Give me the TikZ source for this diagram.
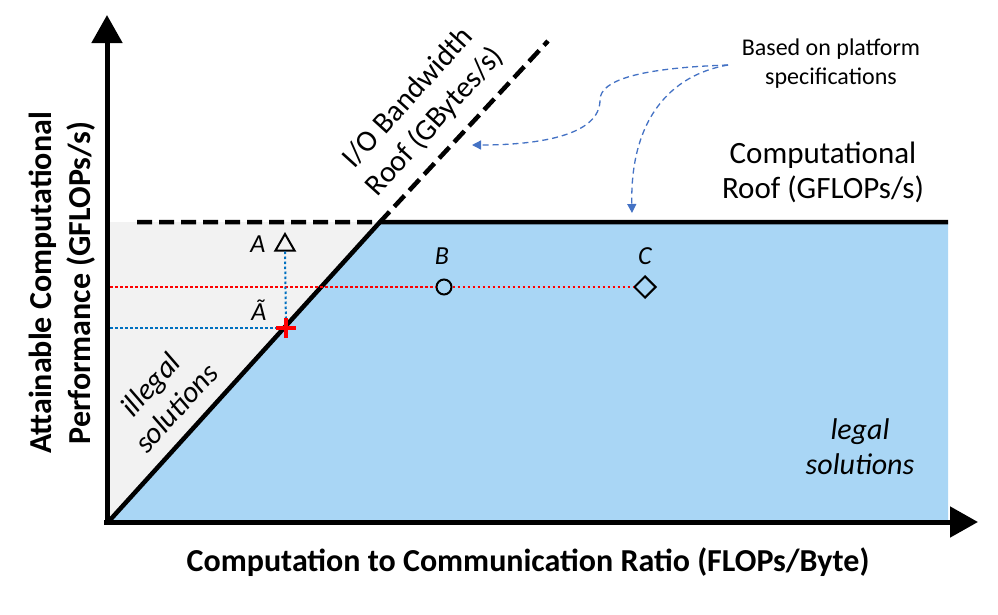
\documentclass[tikz,border=0pt]{standalone}
\usepackage{fontspec}
\setmainfont{Carlito}
\usetikzlibrary{arrows.meta,shapes.geometric}

\definecolor{legalblue}{HTML}{A9D6F5}
\definecolor{illegalgrey}{HTML}{F2F2F2}
\definecolor{noteblue}{HTML}{4472C4}
\definecolor{dotblue}{HTML}{0070C0}

\tikzset{
  axis/.style={line width=5pt,-{Triangle[length=28pt,width=30pt]}},
  roof/.style={line width=4.5pt},
  roofdash/.style={roof,dash pattern=on 15pt off 7pt},
  reddot/.style={red,line width=2pt,dash pattern=on 2.5pt off 2.5pt},
  bluedot/.style={dotblue,line width=2pt,dash pattern=on 2.5pt off 2.5pt},
  note/.style={noteblue,line width=1.3pt,dash pattern=on 6pt off 4pt,
               -{Triangle[length=9pt,width=9pt]}},
  ptlabel/.style={font=\fontsize{26}{28}\selectfont\itshape,inner sep=0pt},
  tri/.style={draw,regular polygon,regular polygon sides=3,minimum size=22pt,
              inner sep=0pt,line width=2pt},
  dot/.style={draw,circle,minimum size=15pt,inner sep=0pt,line width=2pt},
  dia/.style={draw,diamond,minimum size=22pt,inner sep=0pt,line width=2pt},
}

\begin{document}
\begin{tikzpicture}[x=1pt,y=-1pt]
\useasboundingbox (0,0) rectangle (998,614);

% corner points of the roofline
\coordinate (O) at (110,520);
\coordinate (ridge) at (380,222);
\coordinate (roofend) at (948,222);
\coordinate (floorend) at (948,520);
\coordinate (roofstart) at (110,222);

% regions
\fill[illegalgrey] (roofstart) -- (ridge) -- (O) -- cycle;
\fill[legalblue] (O) -- (ridge) -- (roofend) -- (floorend) -- cycle;

% roofs
\draw[roofdash] (137,222) -- (ridge) -- (548,41);
\draw[roof] (O) -- (ridge) -- (roofend);

% axes
\draw[axis] (107,524) -- (107,15);
\draw[axis] (104,522) -- (978,522);

% design points
\node[tri] (A) at (285,245) {};
\node[dot] (B) at (444,287) {};
\node[dia] (C) at (645,287) {};
\coordinate (Aproj) at (286,328);
\coordinate (yB) at (110,287);
\coordinate (yA) at (110,328);

\draw[reddot] (yB) -- (B.west);
\draw[reddot] (B.east) -- (C.west);
\draw[bluedot] (yA) -- (Aproj);
\draw[bluedot] (A.south) -- (Aproj);
\draw[red,line width=4.5pt] ([xshift=-10pt]Aproj) -- ([xshift=10pt]Aproj)
  ([yshift=-10pt]Aproj) -- ([yshift=10pt]Aproj);

\node[ptlabel] (Alabel) at (258,244) {A};
\node[ptlabel] (Atlabel) at (259,310) {Ã};
\node[ptlabel] (Blabel) at (442,256) {B};
\node[ptlabel] (Clabel) at (645,256) {C};

% texts
\node[rotate=47.8,align=center,font=\fontsize{30}{36}\selectfont]
  (iolabel) at (422,110) {I/O Bandwidth\\Roof (GBytes/s)};
\node[rotate=47.8,align=center,font=\fontsize{30}{35}\selectfont\itshape]
  (illegal) at (163,396) {illegal\\solutions};
\node[align=center,font=\fontsize{30}{35}\selectfont\itshape]
  (legal) at (860,447) {legal\\solutions};
\node[align=center,font=\fontsize{31}{35}\selectfont]
  (comproof) at (823,172) {Computational\\Roof (GFLOPs/s)};
\node[align=center,font=\fontsize{24}{29}\selectfont]
  (basedon) at (831,64) {Based on platform\\specifications};
\node[rotate=90,align=center,font=\fontsize{32}{39}\selectfont\bfseries]
  (ylabel) at (62,283) {Attainable Computational\\Performance (GFLOPs/s)};
\node[font=\fontsize{32}{38}\selectfont\bfseries]
  (xlabel) at (528,562) {Computation to Communication Ratio (FLOPs/Byte)};

% notes
\coordinate (notestart) at (728,65);
\draw[note] (notestart) .. controls (640,68) and (600,80) .. (600,100)
  .. controls (600,135) and (540,145) .. (472,145);
\draw[note] (notestart) .. controls (670,75) and (630,120) .. (632,213);
\end{tikzpicture}
\end{document}
